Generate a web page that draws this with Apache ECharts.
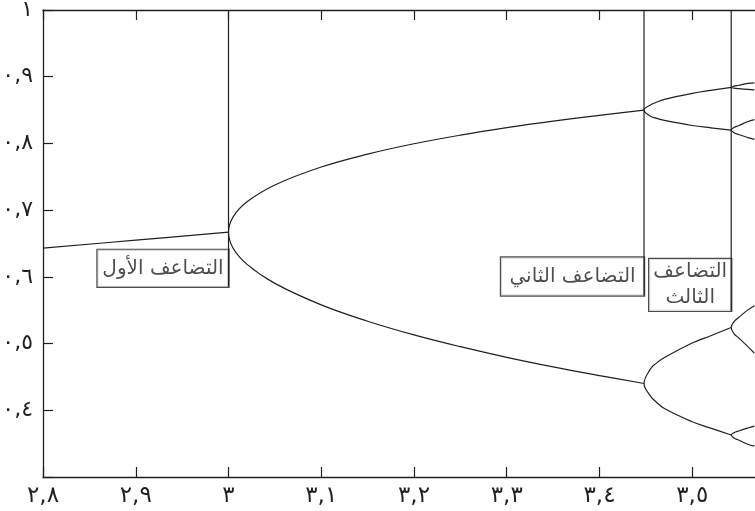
<!DOCTYPE html>
<html>
<head>
<meta charset="utf-8">
<script src="https://cdn.jsdelivr.net/npm/echarts@6/dist/echarts.min.js"></script>
<style>
  html, body { margin: 0; background: #fff; }
  #chart { width: 755px; height: 511px; }
</style>
</head>
<body>
<div id="chart"></div>
<script>
  const xTicks = [2.8, 2.9, 3.0, 3.1, 3.2, 3.3, 3.4, 3.5];
  const xTickLabels = ['٢,٨', '٢,٩', '٣', '٣,١', '٣,٢', '٣,٣', '٣,٤', '٣,٥'];
  const yTicks = [0.4, 0.5, 0.6, 0.7, 0.8, 0.9, 1.0];
  const yTickLabels = ['٠,٤', '٠,٥', '٠,٦', '٠,٧', '٠,٨', '٠,٩', '١'];

  // [r, x] points
  const period1 = [[2.8, 0.643], [2.9, 0.655], [3.0, 0.667]];
  const period2 = [
    [3.448, 0.8499], [3.4, 0.8421], [3.35, 0.8334], [3.3, 0.8236], [3.25, 0.8124],
    [3.2, 0.7995], [3.15, 0.784], [3.1, 0.7646], [3.05, 0.7377], [3.02, 0.7125],
    [3.005, 0.6899], [3.0, 0.6667], [3.005, 0.6428], [3.02, 0.6187], [3.05, 0.5902],
    [3.1, 0.558], [3.15, 0.5335], [3.2, 0.513], [3.25, 0.4953], [3.3, 0.4794],
    [3.35, 0.4651], [3.4, 0.452], [3.448, 0.4401],
  ];
  const period4Upper = [
    [3.542, 0.884], [3.52, 0.8795], [3.5, 0.875], [3.47, 0.866], [3.46, 0.8609],
    [3.455, 0.8577], [3.448, 0.8499], [3.455, 0.8409], [3.46, 0.8382], [3.47, 0.8346],
    [3.5, 0.8269], [3.52, 0.8234], [3.542, 0.82],
  ];
  const period4Lower = [
    [3.542, 0.524], [3.52, 0.5118], [3.5, 0.5009], [3.47, 0.479], [3.46, 0.4692],
    [3.455, 0.4621], [3.448, 0.4401], [3.455, 0.4213], [3.46, 0.4139], [3.47, 0.4026],
    [3.5, 0.3828], [3.52, 0.3732], [3.542, 0.363],
  ];
  const period8a = [
    [3.567, 0.8907], [3.56, 0.8899], [3.55, 0.8872], [3.545, 0.8858], [3.542, 0.884],
    [3.545, 0.8829], [3.55, 0.8821], [3.56, 0.8809], [3.567, 0.8804],
  ];
  const period8b = [
    [3.567, 0.8358], [3.56, 0.8329], [3.55, 0.8266], [3.545, 0.8238], [3.542, 0.82],
    [3.545, 0.8161], [3.55, 0.8133], [3.56, 0.8088], [3.567, 0.806],
  ];
  const period8c = [
    [3.567, 0.5568], [3.56, 0.5505], [3.55, 0.539], [3.545, 0.5326], [3.542, 0.524],
    [3.545, 0.515], [3.55, 0.5085], [3.56, 0.4954], [3.567, 0.4855],
  ];
  const period8d = [
    [3.567, 0.3762], [3.56, 0.3734], [3.55, 0.369], [3.545, 0.3664], [3.542, 0.363],
    [3.545, 0.3585], [3.55, 0.3554], [3.56, 0.349], [3.567, 0.3462],
  ];

  const doublingR = [3.0, 3.448, 3.542];
  const doublingBottom = [0.585, 0.572, 0.549];
  const doublingNames = ['التضاعف الأول', 'التضاعف الثاني', 'التضاعف\nالثالث'];
  const doublingBoxWidth = [131, 143, 82];
  const doublingLineHeight = [37, 38, 26];

  const ink = '#231f20';
  const font = 'DejaVu Sans';

  const tickText = (ticks, labels) => (value) => {
    const index = ticks.findIndex((tick) => Math.abs(tick - value) < 1e-6);
    return index < 0 ? '' : labels[index];
  };

  const curve = (data) => ({
    type: 'line',
    data,
    smooth: 0.4,
    smoothMonotone: 'none',
    showSymbol: false,
    silent: true,
    lineStyle: {color: ink, width: 1.2},
  });

  const axisCommon = {
    type: 'value',
    interval: 0.1,
    splitLine: {show: false},
    axisLine: {lineStyle: {color: ink, width: 1.3}},
    axisTick: {inside: true, length: 10, lineStyle: {color: ink, width: 1.2}},
  };

  const chart = echarts.init(document.getElementById('chart'));
  chart.setOption({
    animation: false,
    backgroundColor: '#fff',
    grid: {left: 43, top: 10, width: 742, height: 467, outerBoundsMode: 'none'},
    xAxis: [
      {
        ...axisCommon,
        position: 'bottom',
        min: 2.8,
        max: 3.6,
        axisLabel: {
          margin: 8, fontFamily: font, fontSize: 23, color: ink,
          formatter: tickText(xTicks, xTickLabels),
        },
      },
      {
        ...axisCommon,
        position: 'top',
        min: 2.8,
        max: 3.6,
        axisLabel: {show: false},
      },
    ],
    yAxis: {
      ...axisCommon,
      min: 0.3,
      max: 1.0,
      axisLabel: {
        margin: 10, fontFamily: font, fontSize: 22, color: ink,
        formatter: tickText(yTicks, yTickLabels),
      },
    },
    series: [
      curve(period1),
      curve(period2),
      curve(period4Upper),
      curve(period4Lower),
      curve(period8a),
      curve(period8b),
      curve(period8c),
      curve(period8d),
      ...doublingR.map((r, i) => ({
        type: 'line',
        data: [[r, 1.0], [r, doublingBottom[i]]],
        showSymbol: false,
        silent: true,
        lineStyle: {color: ink, width: 1.2},
      })),
      {
        type: 'scatter',
        symbolSize: 1,
        silent: true,
        itemStyle: {color: 'transparent'},
        data: doublingR.map((r, i) => ({
          value: [r, doublingBottom[i]],
          label: {
            show: true,
            position: [0.5, 0.5],
            align: 'right',
            verticalAlign: 'bottom',
            backgroundColor: '#fff',
            borderColor: ink,
            borderWidth: 1.2,
            padding: 0,
            formatter: doublingNames[i].split('\n').map((line) => `{t|${line}}`).join('\n'),
            rich: {
              t: {
                width: doublingBoxWidth[i],
                lineHeight: doublingLineHeight[i],
                align: 'center',
                fontFamily: font,
                fontSize: 20,
                color: ink,
              },
            },
          },
        })),
      },
    ],
  });
</script>
</body>
</html>
